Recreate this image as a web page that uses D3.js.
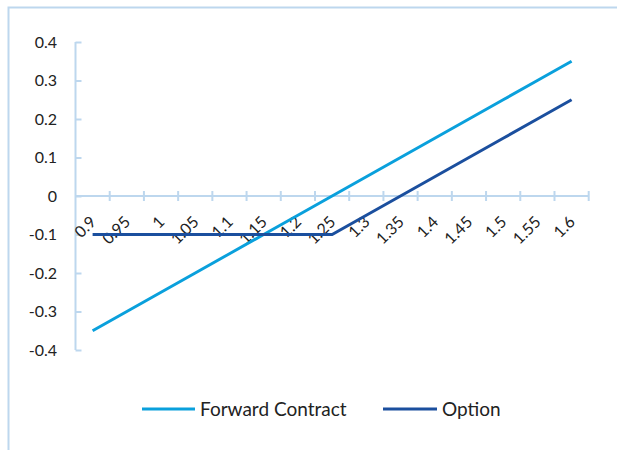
<!DOCTYPE html>
<html>
<head>
<meta charset="utf-8">
<script src="https://cdn.jsdelivr.net/npm/d3@7"></script>
<style>
  body { margin: 0; background: #fff; }
  text { font-family: Lato, "Open Sans", sans-serif; fill: #222; }
</style>
</head>
<body>
<div id="chart"></div>
<script>
const categories = ["0.9", "0.95", "1", "1.05", "1.1", "1.15", "1.2", "1.25", "1.3", "1.35", "1.4", "1.45", "1.5", "1.55", "1.6"];
const forwardValues = [-0.35, -0.3, -0.25, -0.2, -0.15, -0.1, -0.05, 0, 0.05, 0.1, 0.15, 0.2, 0.25, 0.3, 0.35];
const optionValues = [-0.1, -0.1, -0.1, -0.1, -0.1, -0.1, -0.1, -0.1, -0.05, 0, 0.05, 0.1, 0.15, 0.2, 0.25];
const yTicks = [-0.4, -0.3, -0.2, -0.1, 0, 0.1, 0.2, 0.3, 0.4];
const seriesNames = ["Forward Contract", "Option"];

const width = 617;
const height = 450;
const axisColor = "#bdd7ee";
const colors = ["#0aa0dc", "#1b4f9e"];

const svg = d3.select('#chart')
  .append('svg')
  .attr('width', width)
  .attr('height', height);

// outer chart border (only top and left visible in the picture)
svg.append('rect')
  .attr('x', 8.5)
  .attr('y', 7.5)
  .attr('width', 640)
  .attr('height', 480)
  .attr('fill', 'none')
  .attr('stroke', axisColor)
  .attr('stroke-width', 2);

const x = d3.scaleBand()
  .domain(categories)
  .range([75.5, 588.7]);

const y = d3.scaleLinear()
  .domain([-0.4, 0.4])
  .range([350, 42]);

// y axis
const yAxis = svg.append('g')
  .attr('transform', `translate(${x.range()[0]},0)`)
  .call(d3.axisRight(y).tickValues(yTicks).tickSize(6).tickFormat(''));
yAxis.selectAll('path, line').attr('stroke', axisColor).attr('stroke-width', 2);
yAxis.select('.domain').attr('d', `M0,${y(-0.4)}V${y(0.4)}`);

svg.selectAll('.ylabel')
  .data(yTicks)
  .enter().append('text')
  .attr('class', 'ylabel')
  .attr('x', 57)
  .attr('y', d => y(d))
  .attr('dy', '0.36em')
  .attr('text-anchor', 'end')
  .attr('font-size', 16)
  .text(d => d3.format('')(d).replace('−', '-'));

// x axis at zero
const xAxis = svg.append('g')
  .attr('transform', `translate(0,${y(0)})`);
xAxis.append('line')
  .attr('x1', x.range()[0])
  .attr('x2', x.range()[1])
  .attr('stroke', axisColor)
  .attr('stroke-width', 2);
xAxis.selectAll('.xtick')
  .data(categories)
  .enter().append('line')
  .attr('x1', d => x(d) + x.bandwidth())
  .attr('x2', d => x(d) + x.bandwidth())
  .attr('y1', -5)
  .attr('y2', 5)
  .attr('stroke', axisColor)
  .attr('stroke-width', 2);

svg.selectAll('.xlabel')
  .data(categories)
  .enter().append('text')
  .attr('class', 'xlabel')
  .attr('text-anchor', 'end')
  .attr('font-size', 16)
  .attr('transform', d => `translate(${x(d) + x.bandwidth() / 2 + 4.5},${y(0) + 27}) rotate(-45)`)
  .text(d => d);

// lines
const line = d3.line()
  .x((d, i) => x(categories[i]) + x.bandwidth() / 2)
  .y(d => y(d));

[forwardValues, optionValues].forEach((vals, i) => {
  svg.append('path')
    .datum(vals)
    .attr('fill', 'none')
    .attr('stroke', colors[i])
    .attr('stroke-width', 3)
    .attr('d', line);
});

// legend
const legendItems = [
  { name: seriesNames[0], x1: 142, x2: 195, tx: 200 },
  { name: seriesNames[1], x1: 383, x2: 437, tx: 442 }
];
legendItems.forEach((d, i) => {
  svg.append('line')
    .attr('x1', d.x1)
    .attr('x2', d.x2)
    .attr('y1', 409)
    .attr('y2', 409)
    .attr('stroke', colors[i])
    .attr('stroke-width', 3);
  svg.append('text')
    .attr('x', d.tx)
    .attr('y', 409)
    .attr('dy', '0.36em')
    .attr('font-size', 19)
    .text(d.name);
});
</script>
</body>
</html>
